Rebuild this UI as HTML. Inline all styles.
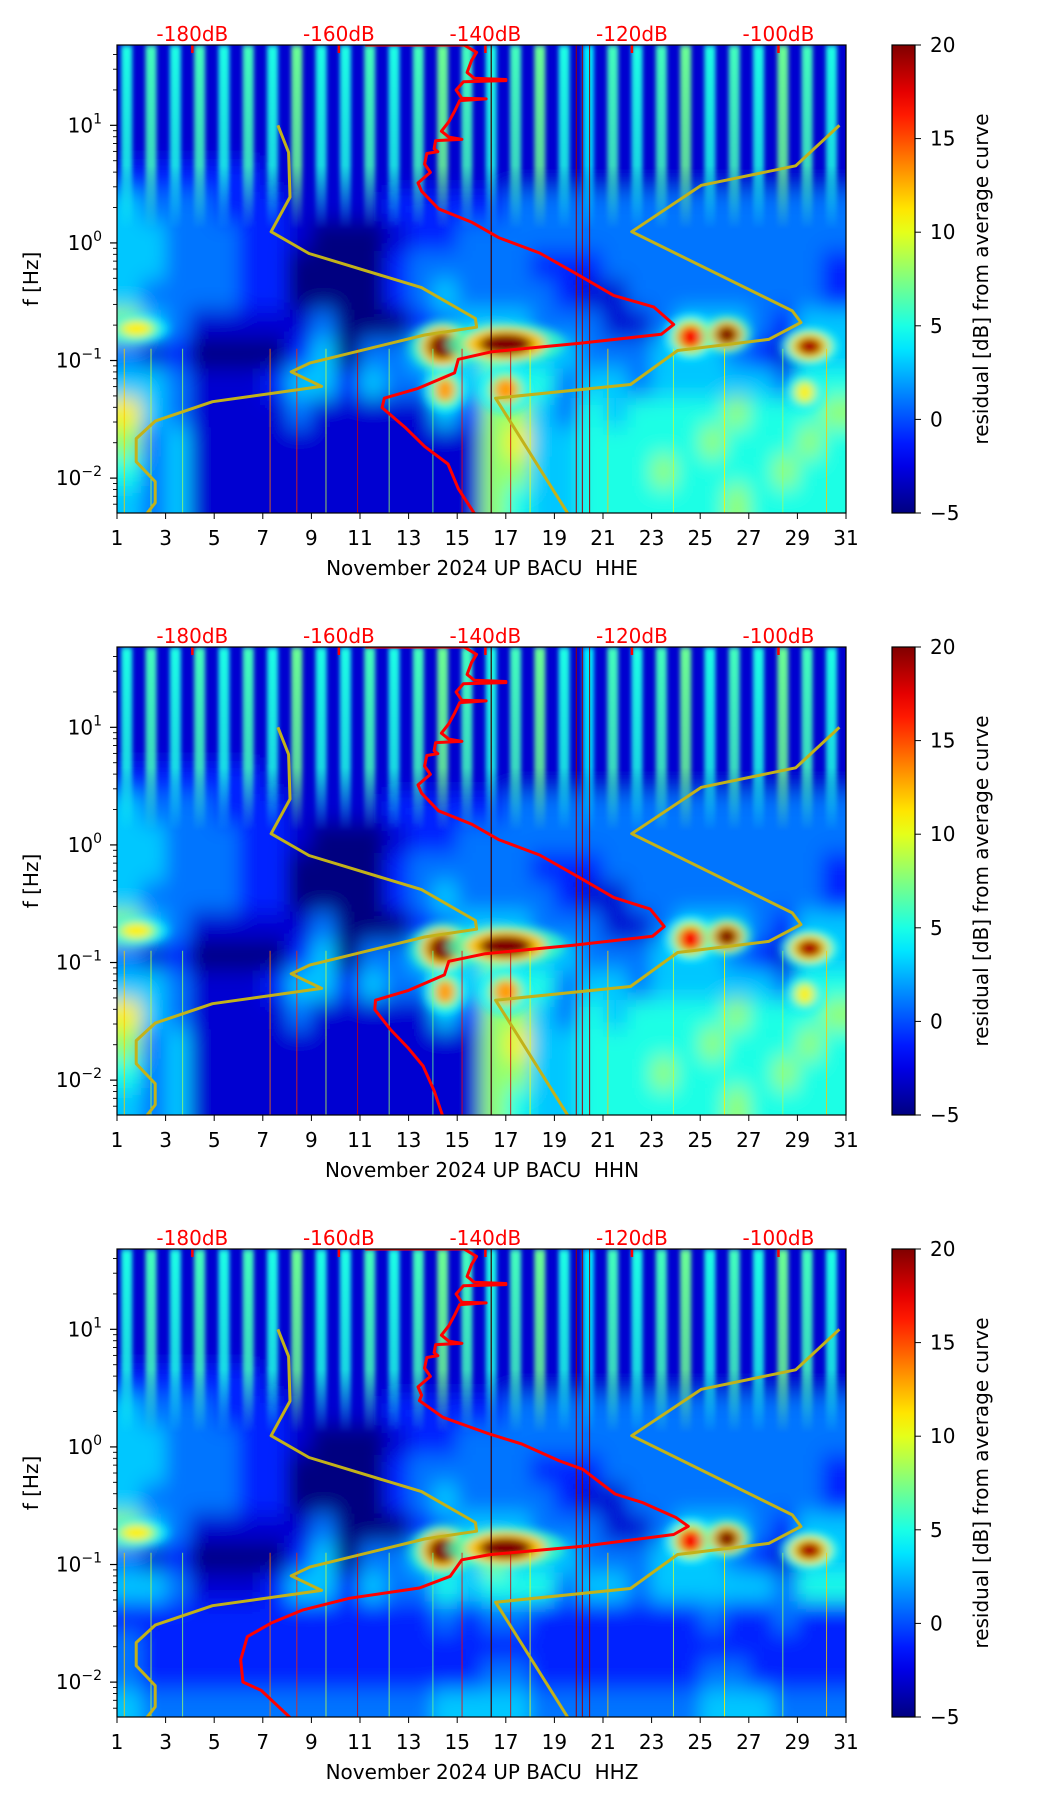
<!DOCTYPE html>
<html>
<head>
<meta charset="utf-8">
<style>
html,body{margin:0;padding:0;background:#fff;}
svg{display:block;font-family:"DejaVu Sans","Liberation Sans",sans-serif;}
text{white-space:pre;}
</style>
</head>
<body>
<svg id="fig" xmlns="http://www.w3.org/2000/svg" width="1052" height="1806" viewBox="0 0 1052 1806">
<defs>
<filter id="blurHeat" x="-5%" y="-5%" width="110%" height="110%"><feGaussianBlur stdDeviation="9 11"/></filter>
<filter id="blurBlob" x="-50%" y="-50%" width="200%" height="200%"><feGaussianBlur stdDeviation="5 4"/></filter>
<filter id="blurStripe" x="-20%" y="-5%" width="140%" height="110%"><feGaussianBlur stdDeviation="2.2 3"/></filter>
<clipPath id="plotClip"><rect x="117" y="45" width="729" height="468"/></clipPath>
<linearGradient id="cbGrad" x1="0" y1="1" x2="0" y2="0"></linearGradient>
<linearGradient id="stripeFade" x1="0" y1="0" x2="0" y2="1">
<stop offset="0" stop-color="#fff" stop-opacity="1"/>
<stop offset="0.65" stop-color="#fff" stop-opacity="0.85"/>
<stop offset="1" stop-color="#fff" stop-opacity="0"/>
</linearGradient>
<mask id="stripeMask"><rect x="117" y="45" width="729" height="185" fill="url(#stripeFade)"/></mask>
</defs>
</svg>
<script>
// ---------- data ----------
const panelComponents = ["HHE", "HHN", "HHZ"];
const dbTickValues = [-180, -160, -140, -120, -100];
const dbTickLabels = ["-180dB", "-160dB", "-140dB", "-120dB", "-100dB"];
const dayTicks = [1, 3, 5, 7, 9, 11, 13, 15, 17, 19, 21, 23, 25, 27, 29, 31];
const yMajorExp = [-2, -1, 0, 1];
const colorbarTicks = [-5, 0, 5, 10, 15, 20];
// residual level codes per frequency band (top -> bottom, 0.25 decade each), one char per day
const levelCodeDb = [-5, -3, -1, 1, 3, 5, 8, 11, 15, 20];
const rowsHHE = [
"111111111111111111111111111111",
"111111111111111111111111111111",
"111111111111111111111111111111",
"111111111111111111111111111111",
"222222111111111111111111111111",
"433322211112222233333333333333",
"443332210001223333333333333333",
"443332200002333332223333333332",
"433332200002343333211333333332",
"643111113000234443331134443244",
"312000024033444644433344432144",
"443111244243354555344344444355",
"743111131111142664354555565556",
"634111111111111674455555655565",
"534111111111111664455565555655",
"434111111111111654455555565555"];
const rowsHHN = [
"111111111111111111111111111111",
"111111111111111111111111111111",
"111111111111111111111111111111",
"111111111111111111111111111111",
"222222111111111111111111111111",
"433322211112222233333333333333",
"443332210001223333333333333333",
"443332200002333332223333333332",
"433332200002343333211333333332",
"643111113000234443331134443244",
"312000024033444644433344432144",
"443111244243354555344344444355",
"743111131111142664354555565556",
"634111111111111674455555655565",
"534111111111111664455565555655",
"434111111111111654455555565555"];
const rowsHHZ = [
"111111111111111111111111111111",
"111111111111111111111111111111",
"111111111111111111111111111111",
"111111111111111111111111111111",
"222222111111111111111111111111",
"433322211112222233333333333333",
"443332210001223333333333333333",
"443332200002333332223333333332",
"433332200002343333211333333332",
"643111113000234443331134443244",
"312000024033444644433344432144",
"443111244243354555344344444355",
"222222222222232332222222322322",
"322222222222222222222222222222",
"322222222222222332222222332222",
"433333333333344443333333444333"];
// strong residual blobs: day, log10 Hz, dB, half-width (days), half-height (decades)
const blobDays = [14.4, 17.0, 24.6, 26.1, 29.5, 1.8, 14.5, 17.0, 29.3];
const blobLogHz = [-0.88, -0.86, -0.80, -0.78, -0.88, -0.73, -1.25, -1.25, -1.27];
const blobDb = [20, 20, 17, 20, 19, 11, 13, 13, 11];
const blobHalfDays = [0.6, 1.1, 0.5, 0.45, 0.55, 0.6, 0.4, 0.5, 0.35];
const blobHalfDec = [0.11, 0.09, 0.1, 0.08, 0.08, 0.06, 0.1, 0.1, 0.08];
// daily high-frequency stripes (dB residual), one per day
const stripeDb = [5, 6, 5, 6, 5, 6, 5, 7, 5, 5, 6, 5, 6, 7, 6, 5, 6, 7, 5, 4, 6, 5, 6, 7, 5, 6, 5, 7, 6, 5];
// narrow transient spikes in the low band
const spikeDays = [1.3, 2.4, 3.7, 7.3, 8.4, 9.6, 10.9, 12.2, 14.0, 15.2, 17.2, 18.0, 21.2, 23.9, 26.0, 28.4, 30.2];
const spikeDb = [12, 9, 8, 14, 16, 9, 18, 8, 7, 17, 18, 10, 12, 9, 11, 8, 12];
// yellow reference curves (day, log10 Hz)
const lowModelDays = [7.62, 8.06, 8.12, 7.34, 8.9, 13.53, 15.75, 15.8, 13.66, 8.95, 8.17, 9.42, 4.93, 2.57, 1.79, 1.79, 2.57, 2.57, 2.23];
const lowModelLogHz = [1.0, 0.77, 0.39, 0.095, -0.09, -0.38, -0.643, -0.717, -0.783, -1.02, -1.096, -1.22, -1.35, -1.515, -1.664, -1.86, -2.03, -2.21, -2.3];
const highModelDays = [30.73, 28.93, 25.05, 22.18, 28.79, 29.15, 27.82, 24.07, 22.13, 16.58, 19.55];
const highModelLogHz = [1.0, 0.656, 0.49, 0.095, -0.578, -0.677, -0.82, -0.915, -1.204, -1.32, -2.3];
// red average curves (dB, log10 Hz)
const avgUpperDb = [-156.4, -142.9, -141.2, -141.9, -142.5, -141.5, -137.2, -137.2, -143.0, -144.0, -143.2, -139.9, -143.5, -144.2, -145.0, -146.0, -145.0, -143.2, -146.8, -147.0, -146.5, -148.0, -148.3, -147.5, -149.2, -148.7];
const avgUpperLogHz = [1.683, 1.683, 1.62, 1.55, 1.45, 1.40, 1.39, 1.38, 1.37, 1.30, 1.23, 1.225, 1.21, 1.12, 1.03, 0.95, 0.90, 0.88, 0.87, 0.80, 0.776, 0.76, 0.67, 0.60, 0.51, 0.44];
const avgLowerHHEdb = [-146.4, -141.9, -138.2, -132.6, -127.1, -122.5, -117.0, -114.3, -116.0, -127.1, -139.1, -143.7, -144.2, -149.2, -153.8, -154.1, -151.0, -148.3, -145.1, -143.7, -141.4];
const avgLowerHHElog = [0.29, 0.177, 0.045, -0.086, -0.28, -0.446, -0.546, -0.694, -0.777, -0.853, -0.925, -0.99, -1.105, -1.237, -1.32, -1.40, -1.566, -1.73, -1.88, -2.09, -2.31];
const avgLowerHHNdb = [-146.4, -141.9, -138.2, -132.6, -127.1, -122.5, -117.5, -115.6, -117.2, -128.0, -140.0, -145.0, -145.6, -150.5, -155.0, -155.1, -153.0, -150.5, -148.5, -147.0, -145.8];
const avgLowerHHNlog = [0.29, 0.177, 0.045, -0.086, -0.28, -0.446, -0.546, -0.694, -0.777, -0.853, -0.925, -0.99, -1.105, -1.237, -1.32, -1.40, -1.566, -1.73, -1.88, -2.09, -2.31];
const avgLowerHHZdb = [-149.0, -145.8, -139.4, -135.0, -129.9, -126.7, -122.3, -118.5, -114.0, -112.3, -114.3, -126.7, -139.4, -143.2, -144.8, -149.0, -158.5, -164.9, -169.3, -172.5, -173.4, -173.1, -170.6, -166.5];
const avgLowerHHZlog = [0.394, 0.252, 0.109, 0.024, -0.119, -0.19, -0.40, -0.474, -0.6, -0.675, -0.745, -0.845, -0.916, -0.96, -1.1, -1.2, -1.286, -1.386, -1.5, -1.614, -1.81, -1.999, -2.07, -2.31];

// ---------- helpers ----------
const NS = "http://www.w3.org/2000/svg";
const svg = document.getElementById("fig");
const X0 = 117, X1 = 846, Y0 = 45, Y1 = 513;
const LOGTOP = 1.683, PXDEC = 117.6;
const FS = 20;
function xDay(d){ return X0 + (d - 1) * (X1 - X0) / 30; }
function yLog(l, off){ return off + Y0 + (LOGTOP - l) * PXDEC; }
function xDb(db){ return xDay(4.1 + (db + 180) * 6.03 / 20); }
function cl(v){ return Math.max(0, Math.min(1, v)); }
function jet(v){
  const t = cl((v + 5) / 25);
  const r = cl(1.5 - Math.abs(4 * t - 3)), g = cl(1.5 - Math.abs(4 * t - 2)), b = cl(1.5 - Math.abs(4 * t - 1));
  return "rgb(" + Math.round(r * 255) + "," + Math.round(g * 255) + "," + Math.round(b * 255) + ")";
}
function mk(tag, attrs, parent){
  const e = document.createElementNS(NS, tag);
  for (const k in attrs) e.setAttribute(k, attrs[k]);
  (parent || svg).appendChild(e);
  return e;
}

const grad = document.getElementById("cbGrad");
for (let i = 0; i <= 20; i++){
  const s = document.createElementNS(NS, "stop");
  s.setAttribute("offset", i / 20);
  s.setAttribute("stop-color", jet(-5 + 25 * i / 20));
  grad.appendChild(s);
}

const panelRows = [rowsHHE, rowsHHN, rowsHHZ];
const panelLowerDb = [avgLowerHHEdb, avgLowerHHNdb, avgLowerHHZdb];
const panelLowerLog = [avgLowerHHElog, avgLowerHHNlog, avgLowerHHZlog];

panelComponents.forEach((comp, p) => {
  const off = p * 602;
  const g = mk("g", {});
  
  

  const clipG = mk("g", {"clip-path": "url(#plotClip)", transform: "translate(0," + off + ")"}, g);
  
  
  mk("rect", {x: X0, y: Y0, width: X1 - X0, height: Y1 - Y0, fill: jet(-2)}, clipG);

  const heat = mk("g", {filter: "url(#blurHeat)"}, clipG);
  const rows = panelRows[p];
  rows.forEach((row, r) => {
    const lTop = LOGTOP - r * 0.25, lBot = lTop - 0.25;
    let yt = yLog(lTop, 0), yb = yLog(lBot, 0);
    if (r === 0) yt -= 25;
    if (r === rows.length - 1) yb += 25;
    for (let d = 0; d < row.length; d++){
      const v = levelCodeDb[+row[d]];
      let xl = xDay(d + 1), xr = xDay(d + 2);
      if (d === 0) xl -= 25;
      if (d === row.length - 1) xr += 25;
      const c = mk("rect", {x: xl, y: yt, width: xr - xl + 0.5, height: yb - yt + 0.5, fill: jet(v)}, heat);
      
      
    }
  });

  const blobG = mk("g", {filter: "url(#blurBlob)"}, clipG);
  blobDays.forEach((d, i) => {
    if (p === 2 && blobLogHz[i] < -1.2) return;
    const cx = xDay(d), cy = yLog(blobLogHz[i], 0);
    const rx = blobHalfDays[i] * (X1 - X0) / 30, ry = blobHalfDec[i] * PXDEC;
    const o = mk("ellipse", {cx: cx, cy: cy, rx: rx * 2.2, ry: ry * 2.0, fill: jet(Math.max(blobDb[i] - 14, 4)), opacity: 0.8}, blobG);
    
    
    const m = mk("ellipse", {cx: cx, cy: cy, rx: rx * 1.5, ry: ry * 1.5, fill: jet(Math.max(blobDb[i] - 8, 7))}, blobG);
    
    
    const c = mk("ellipse", {cx: cx, cy: cy, rx: rx, ry: ry, fill: jet(blobDb[i])}, blobG);
    
    
  });

  const stripesG = mk("g", {filter: "url(#blurStripe)", mask: "url(#stripeMask)"}, clipG);
  stripeDb.forEach((v, i) => {
    const cx = xDay(i + 1.4);
    const s = mk("rect", {x: cx - 5.5, y: Y0, width: 11, height: 185, fill: jet(v)}, stripesG);
    
    
  });

  spikeDays.forEach((d, i) => {
    const sp = mk("line", {x1: xDay(d), x2: xDay(d), y1: yLog(-0.9, 0), y2: Y1, stroke: jet(spikeDb[i]), "stroke-width": 1, opacity: 0.8}, clipG);
    
    
  });

  const vl = mk("line", {x1: xDay(16.4), x2: xDay(16.4), y1: Y0, y2: Y1, stroke: "#3a0000", "stroke-width": 1.2}, clipG);
  
  
  [19.9, 20.15, 20.45].forEach(d => {
    const rl = mk("line", {x1: xDay(d), x2: xDay(d), y1: Y0, y2: Y1, stroke: "#9a0000", "stroke-width": 1}, clipG);
    
    
  });

  function poly(xs, ys, fx, color, w, name){
    let pts = xs.map((x, i) => fx(x).toFixed(1) + "," + yLog(ys[i], 0).toFixed(1)).join(" ");
    const pl = mk("polyline", {points: pts, fill: "none", stroke: color, "stroke-width": w, "stroke-linejoin": "round"}, clipG);
    
    
  }
  poly(lowModelDays, lowModelLogHz, xDay, "#c2b21a", 3, "low-noise-model");
  poly(highModelDays, highModelLogHz, xDay, "#c2b21a", 3, "high-noise-model");
  const rdb = avgUpperDb.concat(panelLowerDb[p]);
  const rlg = avgUpperLogHz.concat(panelLowerLog[p]);
  poly(rdb, rlg, xDb, "#ff0000", 3, "average-curve");

  dbTickValues.forEach((v, i) => {
    const x = xDb(v);
    const t = mk("line", {x1: x, x2: x, y1: off + Y0, y2: off + Y0 + 8, stroke: "#ff0000", "stroke-width": 2.5}, g);
    
    
    const tl = mk("text", {x: x, y: off + 41, "text-anchor": "middle", "font-size": FS, fill: "#ff0000"}, g);
    tl.textContent = dbTickLabels[i];
    
    
  });

  const fr = mk("rect", {x: X0, y: off + Y0, width: X1 - X0, height: Y1 - Y0, fill: "none", stroke: "#000", "stroke-width": 1.2}, g);
  
  

  dayTicks.forEach(d => {
    const x = xDay(d);
    const t = mk("line", {x1: x, x2: x, y1: off + Y1, y2: off + Y1 + 6, stroke: "#000", "stroke-width": 1}, g);
    
    
    const tl = mk("text", {x: x, y: off + 545, "text-anchor": "middle", "font-size": FS, fill: "#000"}, g);
    tl.textContent = String(d);
    
    
  });
  const xl = mk("text", {x: 482, y: off + 575, "text-anchor": "middle", "font-size": FS, fill: "#000"}, g);
  xl.textContent = "November 2024 UP BACU  " + comp;
  
  

  for (let e = -3; e <= 1; e++){
    for (let k = 1; k <= 9; k++){
      const l = e + Math.log10(k);
      if (l < LOGTOP - 3.98 || l > LOGTOP) continue;
      const y = yLog(l, off);
      const len = k === 1 ? 7 : 4;
      const t = mk("line", {x1: X0 - len, x2: X0, y1: y, y2: y, stroke: "#000", "stroke-width": k === 1 ? 1.2 : 0.9}, g);
      
      
    }
  }
  yMajorExp.forEach(e => {
    const y = yLog(e, off);
    const tl = mk("text", {x: 102, y: y + 7, "text-anchor": "end", "font-size": FS, fill: "#000"}, g);
    
    
    const base = document.createElementNS(NS, "tspan");
    base.textContent = "10";
    tl.appendChild(base);
    const sup = document.createElementNS(NS, "tspan");
    sup.setAttribute("dy", "-9");
    sup.setAttribute("font-size", "14");
    sup.textContent = e < 0 ? "\u2212" + (-e) : String(e);
    tl.appendChild(sup);
  });
  const yl = mk("text", {x: 0, y: 0, transform: "translate(38," + (off + 279) + ") rotate(-90)", "text-anchor": "middle", "font-size": FS, fill: "#000"}, g);
  yl.textContent = "f [Hz]";
  
  

  const cb = mk("rect", {x: 892, y: off + Y0, width: 23, height: Y1 - Y0, fill: "url(#cbGrad)", stroke: "#000", "stroke-width": 1.2}, g);
  
  
  colorbarTicks.forEach(v => {
    const y = off + Y1 - (v + 5) / 25 * (Y1 - Y0);
    const t = mk("line", {x1: 915, x2: 921, y1: y, y2: y, stroke: "#000", "stroke-width": 1}, g);
    
    
    const tl = mk("text", {x: 930, y: y + 7, "font-size": FS, fill: "#000"}, g);
    tl.textContent = v < 0 ? "\u2212" + (-v) : String(v);
    
    
  });
  const cl2 = mk("text", {x: 0, y: 0, transform: "translate(988," + (off + 279) + ") rotate(-90)", "text-anchor": "middle", "font-size": FS, fill: "#000"}, g);
  cl2.textContent = "residual [dB] from average curve";
  
  
});
</script>
</body>
</html>
